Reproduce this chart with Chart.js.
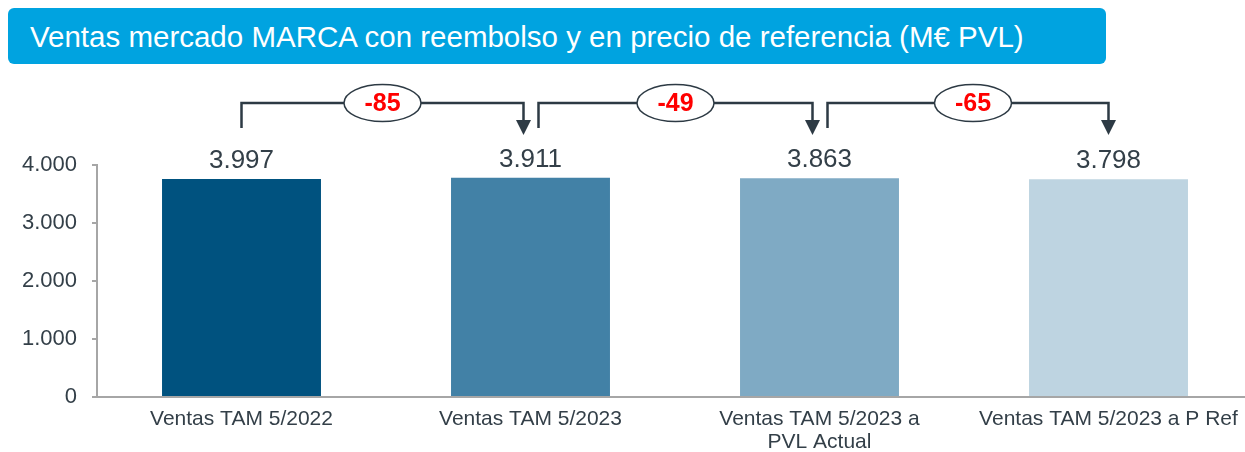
<!DOCTYPE html>
<html>
<head>
<meta charset="utf-8">
<script src="https://cdn.jsdelivr.net/npm/chart.js@4/dist/chart.umd.min.js"></script>
<style>
  html, body { margin: 0; padding: 0; background: #ffffff; overflow: hidden; width: 1245px; height: 452px; }
  #wrap { position: absolute; left: 0; top: 0; width: 1253px; height: 452px; }
  #title {
    position: absolute; left: 8px; top: 8px; width: 1098px; height: 56px;
    background: #00A3E0; border-radius: 6px; color: #ffffff;
    font-family: "Liberation Sans", Arial, sans-serif; font-size: 29.5px;
    line-height: 58px; padding-left: 22px; box-sizing: border-box; white-space: nowrap; z-index: 2;
  }
</style>
</head>
<body>
<div id="wrap"><canvas id="c" width="1253" height="452"></canvas></div>
<div id="title">Ventas mercado MARCA con reembolso y en precio de referencia (M€ PVL)</div>
<script>
// ---- data ----
const categories = [["Ventas TAM 5/2022"], ["Ventas TAM 5/2023"], ["Ventas TAM 5/2023 a", "PVL Actual"], ["Ventas TAM 5/2023 a P Ref"]];
const barValues = [3760, 3782, 3772, 3755];
const valueLabels = ["3.997", "3.911", "3.863", "3.798"];
const deltaLabels = ["-85", "-49", "-65"];
const yTickLabels = ["0", "1.000", "2.000", "3.000", "4.000"];
const barColors = ["#00527F", "#4281A6", "#7FAAC4", "#BED4E1"];

const FONT = '"Liberation Sans", Arial, sans-serif';
const TEXT = '#333F48';
const LINE = '#2D3A44';

const annotations = {
  id: 'annotations',
  afterDraw(chart) {
    const ctx = chart.ctx;
    const meta = chart.getDatasetMeta(0);
    const bars = meta.data;
    ctx.save();
    // value labels
    ctx.fillStyle = TEXT;
    ctx.font = '26px ' + FONT;
    ctx.textAlign = 'center';
    ctx.textBaseline = 'alphabetic';
    bars.forEach((b, i) => ctx.fillText(valueLabels[i], b.x, b.y - 11));
    // brackets
    const topY = chart.chartArea.top - 62;
    const tipY = chart.chartArea.top - 30;
    for (let i = 0; i < deltaLabels.length; i++) {
      const x1 = bars[i].x + (i === 0 ? 0 : 8);
      const x2 = bars[i + 1].x - (i === deltaLabels.length - 1 ? 0 : 7);
      ctx.strokeStyle = LINE;
      ctx.lineWidth = 2.5;
      ctx.lineJoin = 'miter';
      ctx.beginPath();
      ctx.moveTo(x1, topY + 25);
      ctx.lineTo(x1, topY);
      ctx.lineTo(x2, topY);
      ctx.lineTo(x2, tipY - 14);
      ctx.stroke();
      ctx.fillStyle = LINE;
      ctx.beginPath();
      ctx.moveTo(x2 - 7.5, tipY - 15);
      ctx.lineTo(x2 + 7.5, tipY - 15);
      ctx.lineTo(x2, tipY);
      ctx.closePath();
      ctx.fill();
      const cx = (x1 + x2) / 2 + (i === 2 ? 5 : 0);
      ctx.beginPath();
      ctx.ellipse(cx, topY, 38.5, 18.5, 0, 0, Math.PI * 2);
      ctx.fillStyle = '#ffffff';
      ctx.fill();
      ctx.lineWidth = 1.5;
      ctx.stroke();
      ctx.fillStyle = '#FF0000';
      ctx.font = 'bold 25px ' + FONT;
      ctx.textAlign = 'center';
      ctx.textBaseline = 'middle';
      ctx.fillText(deltaLabels[i], cx, topY + 1);
    }
    ctx.restore();
  }
};

new Chart(document.getElementById('c'), {
  type: 'bar',
  data: {
    labels: categories,
    datasets: [{
      data: barValues,
      backgroundColor: barColors,
      borderWidth: 0,
      barPercentage: 0.55,
      categoryPercentage: 1.0
    }]
  },
  options: {
    responsive: false,
    animation: false,
    events: [],
    layout: { padding: { top: 165, left: 0, right: 0, bottom: 0 } },
    plugins: { legend: { display: false }, tooltip: { enabled: false }, title: { display: false } },
    scales: {
      x: {
        grid: { display: false, drawTicks: false },
        border: { display: true, color: '#A6A6A6', width: 2 },
        ticks: { color: TEXT, font: { family: FONT, size: 21, lineHeight: 1.1 }, padding: 11, maxRotation: 0, autoSkip: false },
        afterFit(scale) { scale.height = 55; }
      },
      y: {
        min: 0, max: 4000,
        grid: { drawOnChartArea: false, drawTicks: true, tickLength: 5, color: '#A6A6A6', lineWidth: 2 },
        border: { display: true, color: '#A6A6A6', width: 2 },
        ticks: {
          stepSize: 1000, padding: 15, color: TEXT,
          font: { family: FONT, size: 22 },
          callback: (v, i) => yTickLabels[i]
        },
        afterFit(scale) { scale.width = 97; }
      }
    }
  },
  plugins: [annotations]
});
</script>
</body>
</html>
